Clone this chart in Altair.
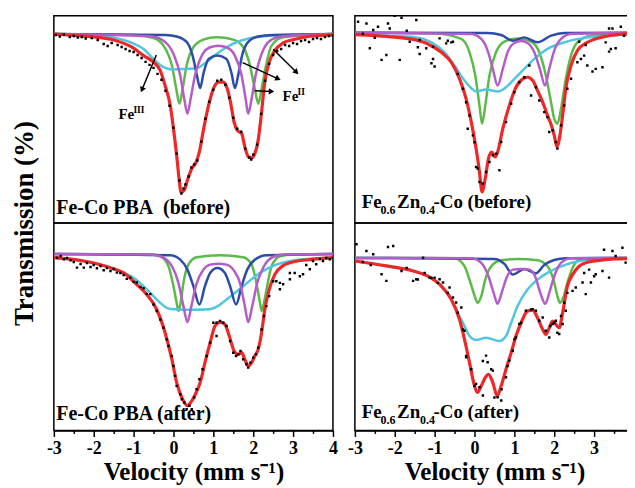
import math
import altair as alt
import pandas as pd

FONT = "Liberation Serif"
W, H = 280, 208
X_DOMAIN = [-3, 4]
X_TICKS = [-3, -2.5, -2, -1.5, -1, -0.5, 0, 0.5, 1, 1.5, 2, 2.5, 3, 3.5, 4]

COLORS = {"cyan": "#52c6e0", "blue": "#2c4ca8", "purple": "#b45dc8",
          "green": "#5cba48", "red": "#ec2828"}

# ---------------- Fe-Co PBA (before) ----------------
TL_RED = [(-3.0,100.0),(-2.5,99.85),(-2.0,99.7),(-1.5,99.4),(-1.05,98.7),(-0.75,97.83),(-0.5,97.17),(-0.33,96.33),(-0.21,94.83),(-0.08,92.83),(0.0,90.5),(0.08,87.83),(0.14,85.5),(0.19,84.1),(0.27,84.33),(0.35,85.33),(0.46,86.5),(0.57,87.17),(0.65,88.17),(0.75,90.33),(0.88,92.83),(1.0,94.5),(1.13,95.17),(1.25,95.17),(1.35,94.5),(1.43,93.17),(1.52,91.17),(1.6,90.33),(1.71,90.0),(1.79,88.67),(1.88,87.67),(1.96,87.57),(2.04,88.0),(2.13,89.5),(2.21,92.17),(2.29,95.17),(2.4,97.17),(2.54,98.33),(2.75,99.1),(3.08,99.5),(3.42,99.77),(4.0,99.9)]
TL_GREEN = [(-3.0,100.0),(-1.0,99.9),(-0.5,99.6),(-0.25,98.83),(-0.04,96.83),(0.07,94.5),(0.15,93.0),(0.23,94.5),(0.33,96.83),(0.5,98.67),(0.75,99.43),(1.08,99.67),(1.5,99.43),(1.75,98.67),(1.92,96.83),(2.04,94.5),(2.13,93.0),(2.21,94.5),(2.32,96.83),(2.46,98.83),(2.75,99.67),(4.0,100.0)]
TL_PURPLE = [(-3.0,100.0),(-0.58,99.77),(-0.25,99.33),(0.0,98.0),(0.17,95.83),(0.27,93.5),(0.35,92.0),(0.43,93.5),(0.54,95.83),(0.71,97.83),(0.92,98.67),(1.125,98.83),(1.33,98.67),(1.54,97.83),(1.71,95.83),(1.81,93.5),(1.875,92.0),(1.96,93.5),(2.06,95.83),(2.21,98.0),(2.42,99.33),(2.75,99.77),(4.0,100.0)]
TL_BLUE = [(-3.0,100.0),(-0.2,99.9),(0.08,99.75),(0.33,99.2),(0.48,97.83),(0.58,96.0),(0.67,94.57),(0.75,96.0),(0.88,97.5),(1.1,97.83),(1.33,97.5),(1.46,96.0),(1.54,94.57),(1.63,96.0),(1.72,97.83),(1.875,99.2),(2.125,99.75),(2.5,99.9),(4.0,100.0)]
TL_CYAN = [(-3.0,100.0),(-1.83,99.9),(-1.58,99.7),(-1.08,99.17),(-0.75,98.5),(-0.5,97.5),(-0.25,96.67),(0.0,96.43),(0.33,96.5),(0.58,96.57),(0.83,97.17),(1.08,98.0),(1.33,98.67),(1.58,99.17),(1.92,99.57),(2.42,99.83),(4.0,100.0)]
TL_DOTS = [(-2.95,99.9),(-2.85,99.75),(-2.75,99.95),(-2.6,99.7),(-2.5,99.8),(-2.4,99.65),(-2.3,99.7),(-2.2,99.55),(-2.05,99.6),(-1.9,99.4),(-1.75,99.0),(-1.65,98.8),(-1.55,99.1),(-1.4,98.9),(-1.3,98.7),(-1.2,98.5),(-1.1,98.3),(-1.0,98.2),(-0.9,97.9),(-0.8,97.6),(-0.7,97.2),(-0.6,96.9),(-0.5,96.6),(-0.4,96.0),(-0.3,95.4),(-0.2,94.3),(-0.1,92.8),(0.0,90.6),(0.08,88.0),(0.15,85.3),(0.2,84.0),(0.25,84.5),(0.3,84.9),(0.38,85.7),(0.45,86.6),(0.52,86.9),(0.6,87.3),(0.7,89.2),(0.8,91.5),(0.9,93.2),(1.0,94.4),(1.1,95.3),(1.2,95.4),(1.3,94.9),(1.4,93.6),(1.5,91.6),(1.6,90.5),(1.7,90.2),(1.8,88.5),(1.9,87.6),(1.95,87.4),(2.0,87.9),(2.1,88.9),(2.2,92.0),(2.3,95.3),(2.4,97.0),(2.5,97.9),(2.6,98.3),(2.7,98.5),(2.8,98.9),(2.9,98.8),(3.0,99.1),(3.1,99.0),(3.2,99.3),(3.3,99.4),(3.4,99.2),(3.5,99.5),(3.6,99.6),(3.7,99.5),(3.8,99.7),(3.9,99.8),(4.0,99.85)]

# ---------------- Fe0.6Zn0.4-Co (before) ----------------
TR_RED = [(-3.0,99.8),(-2.5,99.7),(-2.0,99.55),(-1.5,99.3),(-1.17,98.87),(-0.83,98.03),(-0.58,97.03),(-0.375,95.37),(-0.21,93.37),(-0.08,91.03),(0.04,88.37),(0.125,86.03),(0.19,84.03),(0.27,85.37),(0.35,87.37),(0.43,88.03),(0.52,87.53),(0.58,88.03),(0.71,90.37),(0.875,92.7),(1.04,94.53),(1.21,95.37),(1.33,95.53),(1.46,95.2),(1.58,94.2),(1.71,93.03),(1.83,91.7),(1.93,90.7),(2.0,89.7),(2.07,88.53),(2.13,89.37),(2.21,91.7),(2.29,94.37),(2.42,96.7),(2.58,98.2),(2.83,99.03),(3.17,99.53),(3.5,99.77),(4.0,99.9)]
TR_GREEN = [(-3.0,100.0),(-1.0,99.95),(-0.33,99.37),(-0.125,98.03),(0.02,95.7),(0.125,92.7),(0.19,90.87),(0.27,92.7),(0.375,95.7),(0.54,98.03),(0.75,99.1),(1.08,99.43),(1.42,99.1),(1.625,98.03),(1.79,95.7),(1.92,93.03),(2.0,91.37),(2.08,90.87),(2.17,92.37),(2.29,95.37),(2.42,97.7),(2.58,99.03),(2.92,99.7),(4.0,100.0)]
TR_PURPLE = [(-3.0,100.0),(-0.08,99.87),(0.17,99.37),(0.33,98.2),(0.46,96.37),(0.58,94.7),(0.71,96.37),(0.83,98.03),(1.0,98.97),(1.17,99.17),(1.33,98.97),(1.5,98.03),(1.64,96.37),(1.77,94.7),(1.875,96.37),(2.0,98.2),(2.17,99.37),(2.42,99.87),(4.0,100.0)]
TR_BLUE = [(-3.0,100.0),(0.33,99.97),(0.67,99.77),(0.96,99.2),(1.25,99.53),(1.58,99.03),(1.92,99.7),(2.25,99.97),(4.0,100.0)]
TR_CYAN = [(-3.0,99.85),(-2.2,99.7),(-1.5,99.55),(-1.08,99.03),(-0.75,98.03),(-0.5,96.7),(-0.25,95.2),(-0.08,94.43),(0.04,94.1),(0.29,94.3),(0.58,94.1),(0.79,94.53),(1.0,95.37),(1.25,96.37),(1.5,97.37),(1.83,98.37),(2.25,99.03),(2.67,99.43),(3.17,99.63),(4.0,99.85)]
TR_DOTS = [(-2.92,101.1),(-2.71,100.93),(-2.54,100.27),(-2.42,100.6),(-2.17,100.93),(-2.125,100.43),(-2.0,101.7),(-1.83,101.5),(-1.46,101.27),(-2.625,98.43),(-2.33,97.27),(-1.875,97.27),(-2.21,97.77),(-1.625,99.1),(-1.375,99.27),(-1.21,98.43),(-1.04,98.6),(-0.875,99.43),(-0.71,98.93),(-0.54,99.1),(-1.08,96.93),(-1.0,96.6),(-1.42,98.53),(-1.375,97.87),(-1.04,97.37),(-0.67,99.2),(-0.58,99.03),(-2.8,99.9),(-2.5,99.5),(-1.7,100.2),(-0.42,95.87),(-0.29,94.37),(-0.21,93.03),(-0.17,90.37),(-0.125,91.7),(-0.04,89.7),(0.0,89.0),(0.04,86.53),(0.08,86.37),(0.125,85.03),(0.21,84.87),(0.29,86.03),(0.375,87.03),(0.46,87.7),(0.54,87.87),(0.625,86.2),(0.67,89.03),(0.79,91.03),(0.92,92.87),(1.0,94.03),(1.125,95.03),(1.25,95.53),(1.375,96.7),(1.42,93.7),(1.54,94.53),(1.625,93.2),(1.75,92.03),(1.83,91.53),(1.875,90.03),(1.96,90.2),(2.04,89.03),(2.08,88.37),(2.17,90.7),(2.25,92.7),(2.33,94.37),(2.42,95.37),(2.58,97.03),(2.67,97.37),(2.75,97.7),(2.83,96.7),(3.04,96.37),(3.21,96.53),(3.29,99.03),(3.42,98.37),(2.625,99.1),(2.79,98.77),(3.375,100.43),(3.46,100.43),(3.67,100.6),(3.875,100.43),(3.54,98.43),(3.375,98.1),(2.96,96.1),(3.75,99.7),(3.95,99.9)]

# ---------------- Fe-Co PBA (after) ----------------
BL_RED = [(-3.0,99.63),(-2.25,99.3),(-1.58,98.63),(-1.25,98.1),(-0.92,96.93),(-0.67,95.93),(-0.42,94.43),(-0.21,92.1),(-0.04,89.43),(0.08,87.1),(0.21,85.6),(0.35,84.77),(0.46,85.27),(0.57,86.1),(0.67,87.1),(0.79,89.1),(0.92,91.1),(1.04,92.77),(1.17,93.17),(1.29,92.93),(1.4,91.77),(1.52,90.27),(1.625,89.93),(1.71,90.1),(1.79,89.43),(1.875,88.77),(1.96,89.1),(2.04,89.77),(2.125,90.43),(2.21,92.1),(2.29,94.43),(2.4,96.43),(2.54,97.93),(2.75,98.83),(3.08,99.27),(3.42,99.43),(4.0,99.63)]
BL_GREEN = [(-3.0,100.0),(-0.5,99.95),(-0.33,99.77),(-0.125,98.77),(0.0,96.77),(0.08,95.1),(0.125,94.27),(0.18,95.1),(0.25,97.1),(0.375,98.93),(0.58,99.67),(1.17,99.87),(1.75,99.67),(1.96,98.93),(2.08,97.1),(2.17,95.1),(2.21,94.3),(2.27,95.1),(2.35,96.77),(2.46,98.77),(2.67,99.77),(3.0,99.95),(4.0,100.0)]
BL_PURPLE = [(-3.0,100.0),(-0.6,99.95),(-0.33,99.77),(-0.04,98.77),(0.125,97.1),(0.25,94.77),(0.35,93.17),(0.45,94.77),(0.57,96.93),(0.75,98.43),(0.92,98.93),(1.125,99.03),(1.33,98.93),(1.5,98.43),(1.68,96.93),(1.79,94.77),(1.875,93.17),(1.975,94.77),(2.1,97.1),(2.27,98.77),(2.54,99.77),(2.8,99.95),(4.0,100.0)]
BL_BLUE = [(-3.0,100.0),(-0.08,99.87),(0.17,99.43),(0.35,98.43),(0.5,96.77),(0.65,94.93),(0.79,96.77),(0.92,98.1),(1.1,98.6),(1.29,98.1),(1.42,96.77),(1.57,94.93),(1.71,96.77),(1.85,98.43),(2.04,99.43),(2.33,99.87),(4.0,100.0)]
BL_CYAN = [(-3.0,99.63),(-2.0,99.1),(-1.5,98.5),(-1.0,97.6),(-0.58,96.1),(-0.33,95.1),(-0.17,94.6),(0.0,94.45),(0.5,94.4),(0.9,94.45),(1.1,94.75),(1.33,95.43),(1.75,96.77),(2.17,98.1),(2.58,98.93),(3.0,99.35),(3.5,99.55),(4.0,99.63)]
BL_DOTS = [(-2.92,99.63),(-2.75,99.47),(-2.58,99.37),(-2.42,98.63),(-2.25,98.63),(-2.08,98.7),(-1.92,98.57),(-1.75,98.37),(-1.58,98.3),(-1.42,98.13),(-1.25,97.9),(-1.08,97.63),(-0.92,97.13),(-0.75,96.57),(-0.58,95.97),(-2.83,99.8),(-2.67,99.6),(-2.5,99.2),(-2.33,99.0),(-2.17,99.1),(-2.0,98.9),(-1.83,98.8),(-1.67,98.6),(-1.5,98.5),(-1.33,98.1),(-1.17,97.5),(-1.0,97.2),(-0.83,96.7),(-0.67,96.0),(-0.5,94.93),(-0.42,94.27),(-0.33,93.43),(-0.25,92.6),(-0.17,91.43),(-0.125,90.77),(-0.04,89.77),(0.0,88.77),(0.04,87.77),(0.08,86.77),(0.17,85.93),(0.21,85.43),(0.27,85.1),(0.33,84.43),(0.4,84.77),(0.46,84.43),(0.52,85.6),(0.58,86.43),(0.65,87.43),(0.73,88.43),(0.83,89.77),(0.92,91.1),(1.0,93.1),(1.08,93.1),(1.17,93.27),(1.25,93.1),(1.08,91.77),(1.33,92.77),(1.42,91.27),(1.5,90.1),(1.57,89.77),(1.625,89.93),(1.68,90.27),(1.75,89.43),(1.83,88.93),(1.875,88.6),(1.93,89.1),(2.0,89.6),(2.07,89.93),(2.125,90.6),(2.21,92.43),(2.27,93.77),(2.33,94.77),(2.4,95.77),(2.5,97.27),(2.58,97.27),(2.67,97.1),(2.92,98.1),(3.04,98.1),(3.17,97.77),(2.75,96.97),(2.67,96.47),(2.92,97.47),(3.25,97.97),(3.42,98.47),(3.58,98.97),(3.75,99.3),(3.92,99.47),(3.33,98.9),(3.5,99.3),(3.67,99.5),(3.83,99.6),(4.0,99.6)]

# ---------------- Fe0.6Zn0.4-Co (after) ----------------
BR_RED = [(-3.0,99.7),(-2.21,99.2),(-1.54,98.7),(-1.17,98.17),(-0.83,97.17),(-0.58,95.83),(-0.375,93.83),(-0.25,91.83),(-0.125,89.5),(-0.02,87.5),(0.07,86.5),(0.17,87.17),(0.27,88.0),(0.35,88.33),(0.46,87.5),(0.57,86.17),(0.67,87.17),(0.79,88.83),(0.92,90.5),(1.04,92.17),(1.17,93.5),(1.33,94.67),(1.46,94.77),(1.58,94.0),(1.71,92.83),(1.79,92.33),(1.875,93.0),(1.96,93.67),(2.04,93.33),(2.125,93.0),(2.21,94.5),(2.33,97.17),(2.46,98.33),(2.625,99.17),(2.83,99.57),(3.17,99.77),(3.5,99.9),(4.0,99.95)]
BR_GREEN = [(-3.0,100.0),(-0.5,99.97),(-0.25,99.17),(-0.1,97.5),(0.02,96.0),(0.08,95.5),(0.17,96.17),(0.27,97.83),(0.42,99.17),(0.67,99.77),(1.08,99.9),(1.58,99.77),(1.83,99.17),(1.98,97.83),(2.08,96.17),(2.14,95.5),(2.225,96.0),(2.33,97.5),(2.48,99.17),(2.71,99.97),(4.0,100.0)]
BR_PURPLE = [(-3.0,100.0),(-0.08,99.97),(0.17,99.5),(0.35,98.17),(0.48,96.5),(0.58,95.4),(0.68,96.5),(0.82,98.17),(0.96,98.83),(1.17,98.9),(1.375,98.83),(1.52,98.17),(1.65,96.5),(1.775,95.4),(1.875,96.5),(2.0,98.17),(2.17,99.5),(2.42,99.97),(4.0,100.0)]
BR_BLUE = [(-3.0,100.0),(0.5,99.9),(0.75,99.4),(0.96,98.35),(1.25,98.9),(1.54,98.45),(1.75,99.3),(2.0,99.8),(2.3,99.97),(4.0,100.0)]
BR_CYAN = [(-3.0,99.7),(-2.21,99.2),(-1.54,98.7),(-1.17,98.17),(-0.83,97.17),(-0.58,95.83),(-0.42,94.5),(-0.25,93.17),(-0.125,92.17),(0.04,91.77),(0.29,92.0),(0.625,91.67),(0.79,92.17),(0.92,93.5),(1.08,95.17),(1.33,96.83),(1.58,97.83),(1.83,98.5),(2.08,99.0),(2.42,99.5),(2.83,99.83),(3.33,99.97),(4.0,100.0)]
BR_DOTS = [(-2.96,101.37),(-2.71,100.7),(-2.54,100.37),(-2.17,101.1),(-2.04,101.2),(-2.33,98.37),(-2.21,97.7),(-1.83,98.7),(-1.54,97.7),(-1.46,97.87),(-1.29,100.03),(-1.125,98.03),(-1.0,98.03),(-0.875,97.87),(-0.79,97.53),(-0.625,97.03),(-0.54,96.03),(-0.46,95.53),(-0.33,95.03),(-0.25,92.7),(-0.21,90.03),(0.04,87.37),(0.125,87.03),(0.21,86.2),(0.29,90.2),(0.33,89.53),(0.46,88.7),(0.58,86.03),(0.67,85.7),(0.79,88.03),(0.875,89.7),(0.96,90.7),(1.04,92.03),(1.125,93.37),(1.29,94.7),(1.46,94.87),(1.54,94.7),(1.625,93.7),(1.71,94.03),(1.79,92.7),(1.875,92.03),(1.96,93.37),(2.04,93.7),(2.125,92.37),(2.21,93.37),(2.29,94.7),(2.46,96.7),(2.54,97.03),(2.71,97.53),(2.79,96.37),(2.92,97.53),(3.04,98.37),(3.21,98.7),(3.375,98.03),(3.46,100.7),(3.71,101.03),(3.875,100.53),(3.54,100.2),(3.79,99.53),(-0.67,96.5),(-0.42,94.5),(-0.29,92.83),(-0.21,90.17),(-0.08,88.83),(0.0,87.17),(0.21,89.67),(0.42,88.83),(0.5,86.0),(0.68,86.83),(0.83,89.17),(1.0,91.83),(1.17,93.5),(1.42,94.83),(1.9,93.17),(2.0,93.5),(2.08,92.5),(2.17,94.17),(2.25,95.5),(2.33,96.5),(2.75,98.5),(2.875,98.83),(3.0,98.17),(3.25,100.83),(-1.42,97.83),(-1.25,98.5),(-1.08,98.0),(-0.92,97.5),(-2.8,99.6),(-2.6,99.3),(-1.7,99.0)]

# Y domains (transmission %) of each panel
TL_YDOM = [81.03, 101.83]
TR_YDOM = [80.9, 101.7]
BL_YDOM = [82.3, 103.1]
BR_YDOM = [82.7, 103.5]

# annotation texts
LABEL_TL = "Fe-Co PBA\u00a0\u00a0(before)"
LABEL_BL = "Fe-Co PBA (after)"
SUB_BEFORE = ["Fe", "0.6", "Zn", "0.4", "-Co (before)"]
SUB_AFTER = ["Fe", "0.6", "Zn", "0.4", "-Co (after)"]

# arrows in the first panel: (v1, T1, v2, T2)
TL_ARROWS = [(-0.43, 97.9, -0.79, 94.4), (1.735, 97.13, 2.625, 95.5),
             (2.5, 98.46, 3.085, 96.16), (2.04, 94.3, 2.46, 94.23)]


def df(pts):
    return pd.DataFrame(pts, columns=["v", "T"])


def panel(curves, dots, ydom, texts, bottom=False, left=False, arrows=None):
    xs = alt.Scale(domain=X_DOMAIN, nice=False, zero=False)
    ys = alt.Scale(domain=ydom, nice=False, zero=False)
    if bottom:
        xax = alt.Axis(values=X_TICKS,
                       labelExpr="datum.value % 1 === 0 ? toString(datum.value) : ''",
                       tickSize={"condition": {"test": "datum.value % 1 === 0", "value": 6}, "value": 3},
                       tickColor="black", tickWidth=1.5, domainColor="black", domainWidth=1.5,
                       labelFont=FONT, labelFontWeight="bold", labelFontSize=18, labelColor="black",
                       labelPadding=3, labelFlush=False, labelOverlap=False,
                       title="Velocity (mm s\u207b\u00b9)", titleFont=FONT, titleFontWeight="bold",
                       titleFontSize=25, titleColor="black", titlePadding=2)
    else:
        xax = None
    if left:
        yax = alt.Axis(labels=False, ticks=False, domain=False, grid=False,
                       title="Transmission (%)", titleFont=FONT, titleFontWeight="bold",
                       titleFontSize=27, titleColor="black", titleY=H, titlePadding=21,
                       titleBaseline="alphabetic", titleAlign="center")
    else:
        yax = None
    X = alt.X("v:Q", scale=xs, axis=xax)
    Y = alt.Y("T:Q", scale=ys, axis=yax)
    layers = []
    for name, pts in curves:
        layers.append(alt.Chart(df(pts)).mark_line(
            color=COLORS[name], strokeWidth=3.2 if name == "red" else 2.5,
            interpolate="monotone", clip=True).encode(x=X, y=Y))
    layers.append(alt.Chart(df(dots)).mark_square(color="black", size=6, opacity=1, clip=True)
                  .encode(x=X, y=Y))
    if arrows:
        rows = []
        for v1, t1, v2, t2 in arrows:
            ang = math.degrees(math.atan2((v2 - v1) * 40, (t2 - t1) * 10)) % 360
            rows.append({"v": v1, "T": t1, "v2": v2, "T2": t2, "ang": ang})
        adf = pd.DataFrame(rows)
        layers.append(alt.Chart(adf).mark_rule(color="black", strokeWidth=1.5)
                      .encode(x=X, y=Y, x2="v2:Q", y2="T2:Q"))
        layers.append(alt.Chart(adf).mark_point(shape="triangle-up", filled=True, color="black",
                                                size=40, opacity=1)
                      .encode(x=alt.X("v2:Q", scale=xs, axis=xax),
                              y=alt.Y("T2:Q", scale=ys, axis=yax),
                              angle=alt.Angle("ang:Q", scale=None)))
    for (v, t, s, size, dx, dy) in texts:
        layers.append(alt.Chart(pd.DataFrame([{"v": v, "T": t, "s": s}])).mark_text(
            align="left", baseline="alphabetic", font=FONT, fontWeight="bold",
            fontSize=size, dx=dx, dy=dy, color="black").encode(x=X, y=Y, text="s:N"))
    return alt.layer(*layers).properties(width=W, height=H)


def sub_texts(v, t, parts):
    sizes = [19, 12, 19, 12, 19]
    dxs = [0, 19, 35.5, 58.5, 72]
    dys = [0, 6, 0, 6, 0]
    return [(v, t, p, s, dx, dy) for p, s, dx, dy in zip(parts, sizes, dxs, dys)]


def comps(cyan, blue, purple, green, red):
    return [("green", green), ("cyan", cyan), ("blue", blue), ("purple", purple), ("red", red)]


tl = panel(comps(TL_CYAN, TL_BLUE, TL_PURPLE, TL_GREEN, TL_RED), TL_DOTS, TL_YDOM,
           [(-2.94, 81.93, LABEL_TL, 20, 0, 0),
            (-1.38, 91.5, "Fe", 15, 0, 0), (-1.38, 91.5, "III", 9.5, 15, -6),
            (2.735, 93.23, "Fe", 15, 0, 0), (2.735, 93.23, "II", 9.5, 15, -6)],
           left=True, arrows=TL_ARROWS)
tr = panel(comps(TR_CYAN, TR_BLUE, TR_PURPLE, TR_GREEN, TR_RED), TR_DOTS, TR_YDOM,
           sub_texts(-2.83, 82.43, SUB_BEFORE))
bl = panel(comps(BL_CYAN, BL_BLUE, BL_PURPLE, BL_GREEN, BL_RED), BL_DOTS, BL_YDOM,
           [(-2.94, 83.37, LABEL_BL, 20, 0, 0)], bottom=True)
br = panel(comps(BR_CYAN, BR_BLUE, BR_PURPLE, BR_GREEN, BR_RED), BR_DOTS, BR_YDOM,
           sub_texts(-2.83, 83.93, SUB_AFTER), bottom=True)

chart = alt.concat(tl, tr, bl, br, columns=2, spacing={"row": 0, "column": 22},
                   bounds="flush").properties(
    padding={"left": 2, "top": 6, "right": -13, "bottom": 0}
).configure_view(stroke="black", strokeWidth=1.5).configure_axis(grid=False)

chart.save("out.html", embed_options={"renderer": "svg", "actions": False})
